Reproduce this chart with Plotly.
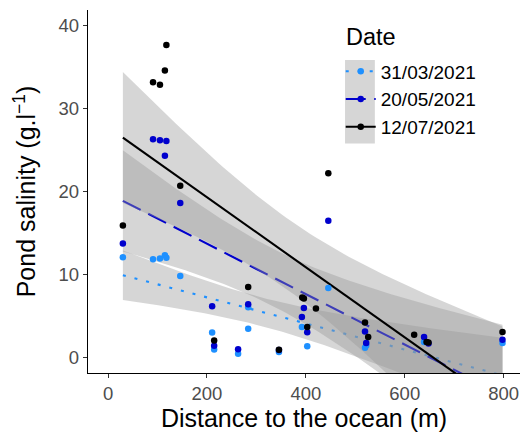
import math
import numpy as np
import plotly.graph_objects as go

# ---------------- data ----------------
dates = ["31/03/2021", "20/05/2021", "12/07/2021"]
colors = ["#1E90FF", "#0000CD", "#000000"]
dashes = ["3px,9px", "20px,8.5px", "solid"]

dist_0331 = [30, 91, 105, 115, 118, 146, 210.5, 214.6, 263, 283.4, 283.4, 345.6,
             392, 402.8, 445.4, 519.6, 522, 639, 797.6]
sal_0331 = [12.05, 11.8, 11.9, 12.3, 12.0, 9.8, 2.95, 0.9, 0.41, 6.0, 3.43, 0.6,
            3.63, 1.29, 8.35, 1.13, 1.38, 1.81, 1.7]

dist_0520 = [30, 91, 105, 115, 118, 146, 210.5, 214.6, 263, 283.4, 345.6, 392,
             396, 402.8, 445.4, 519.6, 522, 639, 648, 797.6]
sal_0520 = [13.7, 26.3, 26.2, 24.3, 26.1, 18.6, 6.13, 1.37, 0.93, 6.37, 0.85, 4.84,
            5.93, 2.99, 16.45, 3.07, 1.7, 2.42, 1.62, 2.1]

dist_0712 = [30, 91, 105, 115, 118, 146, 214.6, 283.4, 345.6, 392.7, 396, 402.8,
             420.4, 445.4, 519.6, 526, 619, 644, 648, 797.6]
sal_0712 = [15.9, 33.2, 32.9, 34.6, 37.7, 20.7, 2.0, 8.46, 0.89, 7.2, 7.06, 3.63,
            5.85, 22.2, 4.16, 2.42, 2.7, 1.81, 1.74, 3.03]

x_ticks = [0, 200, 400, 600, 800]
y_ticks = [0, 10, 20, 30, 40]

series = [(dist_0331, sal_0331), (dist_0520, sal_0520), (dist_0712, sal_0712)]


# ---------------- helpers: linear fit with 95% confidence band ----------------
def t_pdf(t, nu):
    c = math.gamma((nu + 1) / 2) / (math.sqrt(nu * math.pi) * math.gamma(nu / 2))
    return c * (1 + t * t / nu) ** (-(nu + 1) / 2)


def t_cdf(t, nu, n=2000):
    xs = np.linspace(0, t, n + 1)
    ys = np.array([t_pdf(v, nu) for v in xs])
    h = t / n
    integ = h / 3 * (ys[0] + ys[-1] + 4 * ys[1:-1:2].sum() + 2 * ys[2:-1:2].sum())
    return 0.5 + integ


def t_quantile(p, nu):
    lo, hi = 0.0, 20.0
    for _ in range(60):
        mid = (lo + hi) / 2
        if t_cdf(mid, nu) < p:
            lo = mid
        else:
            hi = mid
    return (lo + hi) / 2


def lm_band(x, y, npts=80):
    x = np.asarray(x, float)
    y = np.asarray(y, float)
    n = len(x)
    mx, my = x.mean(), y.mean()
    sxx = ((x - mx) ** 2).sum()
    slope = ((x - mx) * (y - my)).sum() / sxx
    icpt = my - slope * mx
    resid = y - (icpt + slope * x)
    s = math.sqrt((resid ** 2).sum() / (n - 2))
    tq = t_quantile(0.975, n - 2)
    xg = np.linspace(x.min(), x.max(), npts)
    fit = icpt + slope * xg
    se = s * np.sqrt(1 / n + (xg - mx) ** 2 / sxx)
    return xg, fit, fit - tq * se, fit + tq * se


fig = go.Figure()

# ribbons + fitted lines (drawn group by group, as ggplot does)
for (dx, dy), col, dash in zip(series, colors, dashes):
    xg, fit, lo, hi = lm_band(dx, dy)
    fig.add_trace(go.Scatter(
        x=np.concatenate([xg, xg[::-1]]), y=np.concatenate([hi, lo[::-1]]),
        fill="toself", fillcolor="rgba(153,153,153,0.4)", line=dict(width=0),
        mode="lines", hoverinfo="skip", showlegend=False))
    fig.add_trace(go.Scatter(
        x=xg, y=fit, mode="lines", line=dict(color=col, width=2.1, dash=dash),
        hoverinfo="skip", showlegend=False))

# points on top
for (dx, dy), col in zip(series, colors):
    fig.add_trace(go.Scatter(
        x=dx, y=dy, mode="markers", marker=dict(color=col, size=6.5, line=dict(width=0)),
        showlegend=False))

# legend entries
for name, col, dash in zip(dates, colors, dashes):
    fig.add_trace(go.Scatter(
        x=[None], y=[None], mode="lines+markers", name=name,
        line=dict(color=col, width=2.1, dash=dash),
        marker=dict(color=col, size=6.5)))

FONT = "Liberation Sans, Arial, sans-serif"

fig.update_layout(
    width=520, height=433,
    margin=dict(l=88, r=0, t=10, b=60),
    paper_bgcolor="white", plot_bgcolor="white",
    font=dict(family=FONT, color="black"),
    showlegend=True,
    legend=dict(
        x=0.585, y=0.883, xanchor="left", yanchor="top",
        bgcolor="rgba(0,0,0,0)", borderwidth=0,
        font=dict(size=19, family=FONT, color="black"),
    ),
    annotations=[dict(text="Date", xref="paper", yref="paper", x=0.592, y=0.9256,
                      xanchor="left", yanchor="middle", showarrow=False,
                      font=dict(size=23.5, family=FONT, color="black"))],
    shapes=[dict(type="rect", xref="paper", yref="paper",
                 x0=0.595, x1=0.664, y0=0.632, y1=0.862,
                 fillcolor="#D6D6D6", line=dict(width=0), layer="above")],
)

fig.update_xaxes(
    range=[-40.5, 833], tickvals=x_ticks, ticktext=[str(v) for v in x_ticks],
    showgrid=False, zeroline=False, showline=True, linecolor="black", linewidth=1.4,
    ticks="outside", ticklen=4, tickwidth=1.2, tickcolor="#333333",
    tickfont=dict(size=18.5, color="#4D4D4D", family=FONT),
    title=dict(text="Distance to the ocean (m)", font=dict(size=25, family=FONT, color="black"),
               standoff=4),
)
fig.update_yaxes(
    range=[-1.93, 41.92], tickvals=y_ticks, ticktext=[str(v) for v in y_ticks],
    showgrid=False, zeroline=False, showline=True, linecolor="black", linewidth=1.4,
    ticks="outside", ticklen=4, tickwidth=1.2, tickcolor="#333333",
    tickfont=dict(size=18.5, color="#4D4D4D", family=FONT),
    title=dict(text="Pond salinity (g.l<sup>−1</sup>)", font=dict(size=25, family=FONT, color="black"),
               standoff=15),
)

fig.write_html("out.html", config={"displayModeBar": False},
               post_script="document.body.style.margin='0';")
